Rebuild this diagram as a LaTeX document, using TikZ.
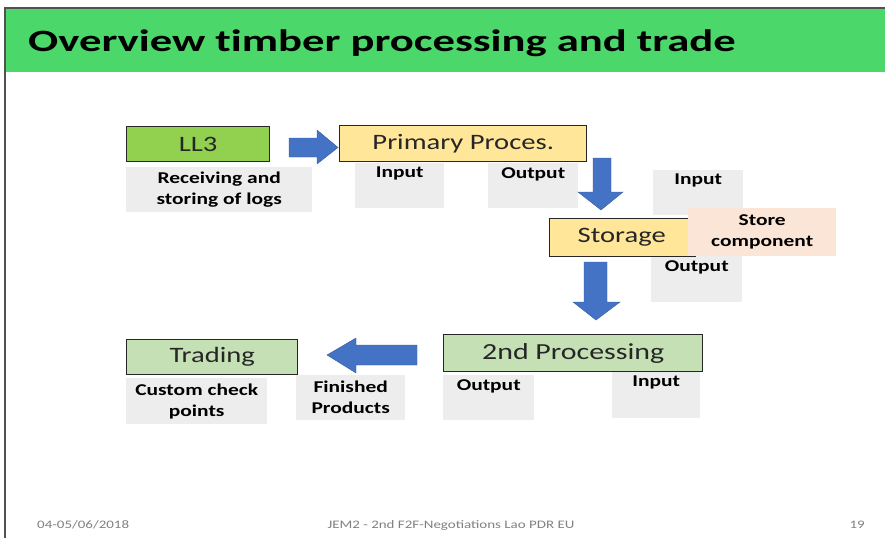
\documentclass[tikz,border=0pt]{standalone}
\usepackage{fontspec}
\setmainfont[FakeStretch=1.3]{Carlito}
\newfontfamily\titlefont[FakeStretch=1.44, Ligatures=NoCommon]{Carlito}
\definecolor{hdr}{HTML}{4CD76A}
\definecolor{llgreen}{HTML}{92D050}
\definecolor{yel}{HTML}{FFE699}
\definecolor{lgreen}{HTML}{C5E0B4}
\definecolor{peach}{HTML}{FBE5D6}
\definecolor{gbox}{HTML}{EDEDED}
\definecolor{arr}{HTML}{4472C4}
\definecolor{edge}{HTML}{262626}
\definecolor{foot}{HTML}{808080}
\tikzset{
  box/.style={draw=edge, line width=1.4pt, anchor=north west, inner sep=0pt, font=\fontsize{22}{24}\selectfont, text=black!85},
  gray/.style={fill=gbox, anchor=north west, inner sep=0pt, font=\fontsize{16.5}{21}\selectfont\bfseries, align=center},
  toplab/.style={label={[anchor=north, inner sep=0pt, yshift=-4pt, font=\fontsize{16.5}{21}\selectfont\bfseries]north:#1}},
  blockarrow/.style={fill=arr, draw=arr!80!black, line width=0.4pt},
  footer/.style={font=\fontsize{11.5}{13}\selectfont, text=foot}
}
\begin{document}
\begin{tikzpicture}[x=1pt,y=-1pt]
\useasboundingbox (0,0) rectangle (885,538);
% slide frame and header
\fill[hdr] (6,9) rectangle (885,72);
\draw[edge!80, line width=1.6pt] (5,538) -- (5,8) -- (885,8);
\node[anchor=base west, inner sep=0pt, font=\titlefont\fontsize{31}{33}\selectfont\bfseries] (title) at (28,51) {Overview timber processing and trade};

% gray text boxes
\node[gray, minimum width=186, minimum height=45] (recv) at (126,167) {Receiving and\\storing of logs};
\node[gray, minimum width=89, minimum height=45, toplab=Input] (pin) at (355,163) {};
\node[gray, minimum width=90, minimum height=45, toplab=Output] (pout) at (488,163) {};
\node[gray, minimum width=90, minimum height=45, toplab=Input] (sin) at (653,170) {};
\node[gray, minimum width=91, minimum height=46, toplab=Output] (sout) at (651,256) {};
\node[gray, minimum width=141, minimum height=46] (cust) at (126,378) {Custom check\\points};
\node[gray, minimum width=109, minimum height=45] (fin) at (296,375) {Finished\\Products};
\node[gray, minimum width=91, minimum height=45, toplab=Output] (sp-out) at (443,375) {};
\node[gray, minimum width=88, minimum height=46, toplab=Input] (sp-in) at (612,372) {};

% main boxes
\node[box, fill=llgreen, minimum width=143, minimum height=35] (ll3) at (126,126) {LL3};
\node[box, fill=yel, minimum width=247, minimum height=36] (prim) at (339,125) {Primary Proces.};
\node[box, fill=yel, minimum width=146, minimum height=38] (stor) at (549,218) {\hspace*{-2pt}Storage};
\node[fill=peach, anchor=north west, inner sep=0pt, minimum width=148, minimum height=48, align=center, font=\fontsize{16.5}{21}\selectfont\bfseries] (comp) at (688,208) {Store\\component};
\node[box, fill=lgreen, minimum width=259, minimum height=37, font=\fontsize{23}{25}\selectfont] (sec) at (443,334) {2nd Processing};
\node[box, fill=lgreen, minimum width=171, minimum height=35] (trad) at (126,339) {Trading};

% block arrows
\draw[blockarrow] (289,138) -- (317,138) -- (317,130) -- (338,147.5) -- (317,164) -- (317,157) -- (289,157) -- cycle;
\draw[blockarrow] (593,158) -- (611,158) -- (611,192) -- (623,192) -- (601,210) -- (578,192) -- (593,192) -- cycle;
\draw[blockarrow] (584,262) -- (607,262) -- (607,302) -- (620,302) -- (596,320) -- (573,302) -- (584,302) -- cycle;
\draw[blockarrow] (417,345) -- (356,345) -- (356,338) -- (327,355) -- (356,373) -- (356,365) -- (417,365) -- cycle;

% footer
\node[footer, anchor=base west, inner sep=0pt] (date) at (37,528) {04-05/06/2018};
\node[footer, anchor=base, inner sep=0pt] (mid) at (451,528) {JEM2 - 2nd F2F-Negotiations Lao PDR EU};
\node[footer, anchor=base east, inner sep=0pt] (page) at (865,528) {19};
\end{tikzpicture}
\end{document}
